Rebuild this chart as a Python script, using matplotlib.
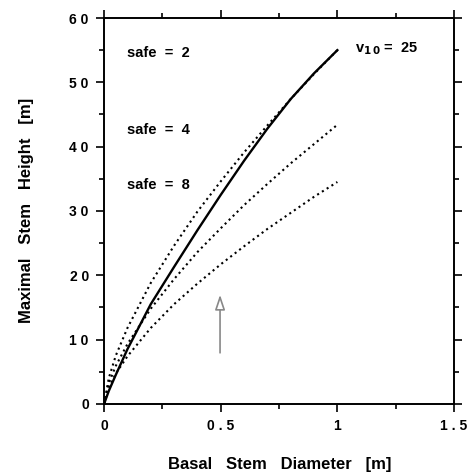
import matplotlib
matplotlib.use("Agg")
import matplotlib.pyplot as plt
from matplotlib.ticker import MultipleLocator

plt.rcParams['font.family'] = ['Liberation Sans', 'DejaVu Sans']
plt.rcParams['font.weight'] = 'bold'

# basal stem diameter [m]
diam = [0, 0.02, 0.05, 0.1, 0.2, 0.3, 0.4, 0.5, 0.6, 0.7, 0.8, 0.9, 1.0]

# maximal stem height [m] for the safety factors (dotted)
safe2 = [0, 4.0, 7.5, 11.8, 18.8, 24.6, 29.9, 34.6, 39.1, 43.3, 47.4, 51.3, 55.0]
safe4 = [0, 3.2, 5.9, 9.3, 14.8, 19.4, 23.6, 27.3, 30.9, 34.2, 37.4, 40.4, 43.4]
safe8 = [0, 2.5, 4.7, 7.4, 11.8, 15.5, 18.7, 21.7, 24.5, 27.2, 29.7, 32.2, 34.5]

# observed envelope (solid)
solid = [0, 2.0, 4.5, 8.5, 15.5, 21.3, 27.0, 32.5, 37.8, 42.8, 47.4, 51.4, 55.0]

xticks = [0, 0.5, 1, 1.5]
xticklabels = ["0", "0 . 5", "1", "1 . 5"]
yticks = [0, 10, 20, 30, 40, 50, 60]
yticklabels = ["0", "1 0", "2 0", "3 0", "4 0", "5 0", "6 0"]

fig = plt.figure(figsize=(4.69, 4.74), dpi=100)
ax = fig.add_axes([0.222, 0.148, 0.746, 0.814])

ax.plot(diam, safe2, color='black', lw=1.5, ls=(0, (1, 1.7)))
ax.plot(diam, safe4, color='black', lw=1.5, ls=(0, (1, 1.7)))
ax.plot(diam, safe8, color='black', lw=1.5, ls=(0, (1, 1.7)))
ax.plot(diam, solid, color='black', lw=1.7)

ax.set_xlim(0, 1.5)
ax.set_ylim(0, 60)
ax.set_xticks(xticks)
ax.set_xticklabels(xticklabels)
ax.set_yticks(yticks)
ax.set_yticklabels(yticklabels)
ax.xaxis.set_minor_locator(MultipleLocator(0.25))
ax.yaxis.set_minor_locator(MultipleLocator(5))
ax.tick_params(which='both', direction='out', top=True, right=True,
               labelsize=10, width=1.2, pad=5)
ax.tick_params(which='major', length=6)
ax.tick_params(which='minor', length=3.5)
for s in ax.spines.values():
    s.set_linewidth(1.4)

ax.text(0.1, 54.6, "safe  =  2", fontsize=10.5, va='center')
ax.text(0.1, 42.6, "safe  =  4", fontsize=10.5, va='center')
ax.text(0.1, 34.0, "safe  =  8", fontsize=10.5, va='center')
ax.text(1.075, 55.3, r"v$_{\mathbf{1\,0}}$ =  25", fontsize=10.5, va='center')

ax.annotate("", xy=(0.497, 17.4), xytext=(0.497, 7.5),
            arrowprops=dict(arrowstyle='-|>,head_length=0.9,head_width=0.3',
                            facecolor='white', edgecolor='#888888', lw=1.2))

fig.text(0.056, 0.555, "Maximal   Stem   Height   [m]", rotation=90,
         fontsize=12, ha='center', va='center')
fig.text(0.597, 0.019, "Basal   Stem   Diameter   [m]",
         fontsize=12, ha='center', va='center')

fig.savefig("out.png", dpi=100)
